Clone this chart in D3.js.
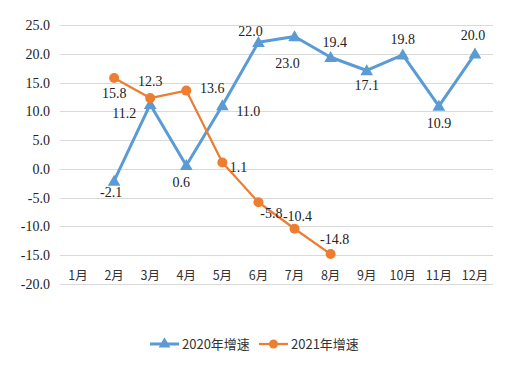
<!DOCTYPE html>
<html>
<head>
<meta charset="utf-8">
<script src="https://cdn.jsdelivr.net/npm/d3@7"></script>
<style>
  body { margin: 0; background: #fff; }
  svg text { fill: #222; }
</style>
</head>
<body>
<div id="chart"></div>
<script>
const months = ["1月","2月","3月","4月","5月","6月","7月","8月","9月","10月","11月","12月"];
const growth2020 = [null, -2.1, 11.2, 0.6, 11.0, 22.0, 23.0, 19.4, 17.1, 19.8, 10.9, 20.0];
const growth2021 = [null, 15.8, 12.3, 13.6, 1.1, -5.8, -10.4, -14.8, null, null, null, null];
const yTicks = [25, 20, 15, 10, 5, 0, -5, -10, -15, -20];
const seriesNames = ["2020年增速", "2021年增速"];

// label offsets (dx, dy) relative to each point
const off2020 = [null, [-3, 16], [-26, 14], [-5, 22], [26, 10], [-8, -6], [-7, 31], [4, -10], [0, 20], [0, -11], [0, 22], [-2, -14]];
const off2021 = [null, [0, 20], [0, -12], [26, 2], [16, 9], [13, 16], [3, -8], [4, -10]];

const width = 512, height = 378;
const margin = { left: 60, right: 19, top: 25, bottom: 94 };

const svg = d3.select("#chart").append("svg")
  .attr("width", width).attr("height", height);

const x = d3.scaleBand().domain(months)
  .range([margin.left, width - margin.right]);
const y = d3.scaleLinear().domain([-20, 25])
  .range([height - margin.bottom, margin.top]);

// grid
svg.append("g").selectAll("line").data(yTicks).enter().append("line")
  .attr("x1", margin.left).attr("x2", width - margin.right)
  .attr("y1", d => Math.round(y(d)) + 0.5).attr("y2", d => Math.round(y(d)) + 0.5)
  .attr("stroke", "#d9d9d9").attr("stroke-width", 1);

// y labels
svg.append("g").selectAll("text").data(yTicks).enter().append("text")
  .attr("x", 50).attr("y", d => y(d) + 5)
  .attr("text-anchor", "end")
  .style("font-family", "'Liberation Serif', serif")
  .style("font-size", "14px")
  .text(d => d3.format(".1f")(d).replace("−", "-"));

// month labels
svg.append("g").selectAll("text").data(months).enter().append("text")
  .attr("x", d => x(d) + x.bandwidth() / 2).attr("y", 280)
  .attr("text-anchor", "middle")
  .style("font-family", "'Noto Sans CJK SC', sans-serif")
  .style("font-size", "12.5px")
  .style("fill", "#333")
  .text(d => d);

const cx = i => x(months[i]) + x.bandwidth() / 2;

function drawSeries(values, color, lw, marker, offsets) {
  const pts = values.map((v, i) => ({ v, i })).filter(d => d.v !== null);
  const line = d3.line().x(d => cx(d.i)).y(d => y(d.v));
  svg.append("path").datum(pts)
    .attr("d", line).attr("fill", "none")
    .attr("stroke", color).attr("stroke-width", lw)
    .attr("stroke-linejoin", "round");
  const g = svg.append("g");
  if (marker === "triangle") {
    const sym = d3.symbol().type(d3.symbolTriangle).size(70);
    g.selectAll("path").data(pts).enter().append("path")
      .attr("d", sym)
      .attr("transform", d => `translate(${cx(d.i)},${y(d.v) + 1})`)
      .attr("fill", color);
  } else {
    g.selectAll("circle").data(pts).enter().append("circle")
      .attr("cx", d => cx(d.i)).attr("cy", d => y(d.v)).attr("r", 5)
      .attr("fill", color);
  }
  svg.append("g").selectAll("text").data(pts).enter().append("text")
    .attr("x", d => cx(d.i) + offsets[d.i][0])
    .attr("y", d => y(d.v) + offsets[d.i][1])
    .attr("text-anchor", "middle")
    .style("font-family", "'Liberation Serif', serif")
    .style("font-size", "14px")
    .text(d => d3.format(".1f")(d.v).replace("−", "-"));
}

drawSeries(growth2020, "#5b9bd5", 3, "triangle", off2020);
drawSeries(growth2021, "#ed7d31", 2.25, "circle", off2021);

// legend
const legend = svg.append("g");
const legendItems = [
  { name: seriesNames[0], color: "#5b9bd5", lw: 3, marker: "triangle", x: 150 },
  { name: seriesNames[1], color: "#ed7d31", lw: 2.25, marker: "circle", x: 259 }
];
const ly = 344;
legendItems.forEach(it => {
  legend.append("line")
    .attr("x1", it.x).attr("x2", it.x + 29).attr("y1", ly).attr("y2", ly)
    .attr("stroke", it.color).attr("stroke-width", it.lw);
  if (it.marker === "triangle") {
    legend.append("path")
      .attr("d", d3.symbol().type(d3.symbolTriangle).size(60)())
      .attr("transform", `translate(${it.x + 14.5},${ly})`)
      .attr("fill", it.color);
  } else {
    legend.append("circle").attr("cx", it.x + 14.5).attr("cy", ly).attr("r", 4.5)
      .attr("fill", it.color);
  }
  legend.append("text")
    .attr("x", it.x + 32).attr("y", ly + 5)
    .style("font-family", "'Noto Sans CJK SC', sans-serif")
    .style("font-size", "13px")
    .style("fill", "#333")
    .text(it.name);
});
</script>
</body>
</html>
